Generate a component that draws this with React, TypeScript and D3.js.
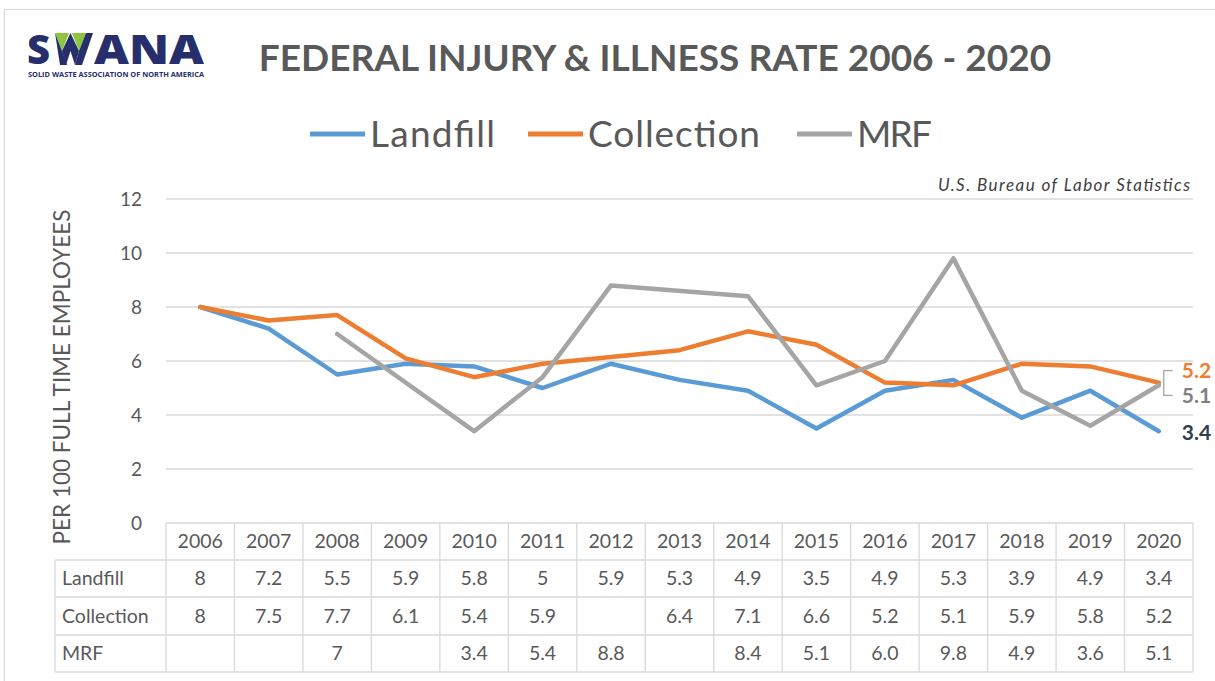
import React from "react";
import * as d3 from "d3";

const years = ["2006","2007","2008","2009","2010","2011","2012","2013","2014","2015","2016","2017","2018","2019","2020"];
const landfill: (number|null)[] = [8,7.2,5.5,5.9,5.8,5,5.9,5.3,4.9,3.5,4.9,5.3,3.9,4.9,3.4];
const collection: (number|null)[] = [8,7.5,7.7,6.1,5.4,5.9,null,6.4,7.1,6.6,5.2,5.1,5.9,5.8,5.2];
const mrf: (number|null)[] = [null,null,7,null,3.4,5.4,8.8,null,8.4,5.1,6.0,9.8,4.9,3.6,5.1];
const mrfText = ["","","7","","3.4","5.4","8.8","","8.4","5.1","6.0","9.8","4.9","3.6","5.1"];
const yTicks = [0,2,4,6,8,10,12];

const seriesNames = ["Landfill","Collection","MRF"];
const seriesColors = ["#5b9bd5","#ed7d31","#a5a5a5"];

const FONT = "Lato, 'Open Sans', sans-serif";
const GRID = "#d9d9d9";
const TXT = "#595959";

export default function App() {
  const left = 166, right = 1193;
  const x = d3.scaleBand<string>().domain(years).range([left, right]);
  const cx = (i: number) => (x(years[i]) as number) + x.bandwidth() / 2;
  const y = d3.scaleLinear().domain([0, 12]).range([523, 199]);

  const allSeries = [landfill, collection, mrf];
  const lineGen = d3.line<{i:number;v:number}>().x(d => cx(d.i)).y(d => y(d.v));
  const paths = allSeries.map(s => {
    const pts = s.map((v, i) => ({ i, v })).filter(d => d.v !== null) as {i:number;v:number}[];
    return lineGen(pts) as string;
  });

  const rowTops = [523, 560, 597, 635, 672];
  const rowLabels = ["", ...seriesNames];
  const tableLeft = 55;
  const rowTexts = [
    years,
    landfill.map(v => v === null ? "" : String(v)),
    collection.map(v => v === null ? "" : String(v)),
    mrfText,
  ];

  const last = years.length - 1;
  const px = cx(last);

  const legendPos = [{lx:310,tx:370,w:125},{lx:528,tx:588,w:172},{lx:797,tx:857,w:75}];

  return (
    <svg width={1215} height={681} style={{ position: "absolute", left: 0, top: 0, background: "#fff" }} fontFamily={FONT}>
      <rect x={4.5} y={9.5} width={1230} height={700} fill="none" stroke={GRID} strokeWidth={1.2} />

      {/* Logo */}
      <g>
        <text x={27} y={64} fontSize={40} fontWeight={900} fill="#262f6b" fontFamily="'Open Sans', sans-serif">S</text>
        <g transform="translate(55,33)">
          <polygon points="0,0 14,0 7,18" fill="#8cc63f" />
          <polygon points="17,0 31,0 24,18" fill="#8cc63f" />
          <polygon points="0,0 7,18 12,32 5,32" fill="#262f6b" />
          <polygon points="7,18 15.5,0 24,18 20,32 15.5,18 11,32" fill="#262f6b" />
          <polygon points="31,0 38,0 27,32 20,32 24,18" fill="#262f6b" />
        </g>
        <text x={94} y={64} fontSize={40} fontWeight={900} fill="#262f6b" fontFamily="'Open Sans', sans-serif" textLength={110} lengthAdjust="spacingAndGlyphs">ANA</text>
        <text x={28} y={77} fontSize={6.5} fontWeight={700} fill="#262f6b" fontFamily="'Open Sans', sans-serif" textLength={176} lengthAdjust="spacingAndGlyphs">SOLID WASTE ASSOCIATION OF NORTH AMERICA</text>
      </g>

      {/* Title */}
      <text x={655} y={71} textAnchor="middle" fontSize={37} fontWeight={700} fill={TXT}>FEDERAL INJURY &amp; ILLNESS RATE 2006 - 2020</text>

      {/* Legend */}
      {legendPos.map((p, i) => (
        <g key={i}>
          <line x1={p.lx} x2={p.lx + 55} y1={134} y2={134} stroke={seriesColors[i]} strokeWidth={5} />
          <text x={p.tx} y={147} fontSize={37} fill={TXT} textLength={p.w} lengthAdjust="spacing">{seriesNames[i]}</text>
        </g>
      ))}

      {/* Source */}
      <text x={938} y={191} fontSize={17} fontStyle="italic" fill="#404040" textLength={252} lengthAdjust="spacing">U.S. Bureau of Labor Statistics</text>

      {/* Grid */}
      {yTicks.filter(t => t > 0).map(t => (
        <line key={t} x1={left} x2={right} y1={y(t)} y2={y(t)} stroke={GRID} strokeWidth={1.3} />
      ))}
      {yTicks.map(t => (
        <text key={t} x={142} y={y(t)} dy="0.35em" textAnchor="end" fontSize={19} fill={TXT}>{t}</text>
      ))}

      {/* Y axis label */}
      <text transform={`translate(70,377) rotate(-90)`} textAnchor="middle" fontSize={22.5} fill={TXT}>PER 100 FULL TIME EMPLOYEES</text>

      {/* Lines */}
      {paths.map((d, i) => (
        <path key={i} d={d} fill="none" stroke={seriesColors[i]} strokeWidth={4.5} strokeLinejoin="round" strokeLinecap="round" />
      ))}

      {/* End labels */}
      <path d={`M${px + 14},${y(5.2) - 12} H${px + 5} V${y(5.1) + 10} H${px + 14}`} fill="none" stroke="#a5a5a5" strokeWidth={1.3} />
      <text x={px + 23} y={y(5.2) - 12} dy="0.35em" fontSize={21} fontWeight={700} fill={seriesColors[1]}>{collection[last]}</text>
      <text x={px + 23} y={y(5.1) + 10} dy="0.35em" fontSize={21} fontWeight={700} fill="#7f7f7f">{mrf[last]}</text>
      <text x={px + 23} y={y(landfill[last] as number) + 1} dy="0.35em" fontSize={21} fontWeight={700} fill="#333f50">{landfill[last]}</text>

      {/* Table */}
      <g stroke={GRID} strokeWidth={1.3}>
        {rowTops.map((ty, r) => (
          <line key={r} x1={r === 0 ? left : tableLeft} x2={right} y1={ty} y2={ty} />
        ))}
        <line x1={tableLeft} x2={tableLeft} y1={rowTops[1]} y2={rowTops[4]} />
        {years.map((yr) => (
          <line key={yr} x1={x(yr) as number} x2={x(yr) as number} y1={rowTops[0]} y2={rowTops[4]} />
        ))}
        <line x1={right} x2={right} y1={rowTops[0]} y2={rowTops[4]} />
      </g>
      {rowTexts.map((row, r) => (
        <g key={r}>
          {r > 0 && (
            <text x={62} y={(rowTops[r] + rowTops[r + 1]) / 2} dy="0.35em" fontSize={19.5} fill={TXT}>{rowLabels[r]}</text>
          )}
          {row.map((t, i) => (
            <text key={i} x={cx(i)} y={(rowTops[r] + rowTops[r + 1]) / 2} dy="0.35em" textAnchor="middle" fontSize={19.5} fill={TXT}>{t}</text>
          ))}
        </g>
      ))}
    </svg>
  );
}
